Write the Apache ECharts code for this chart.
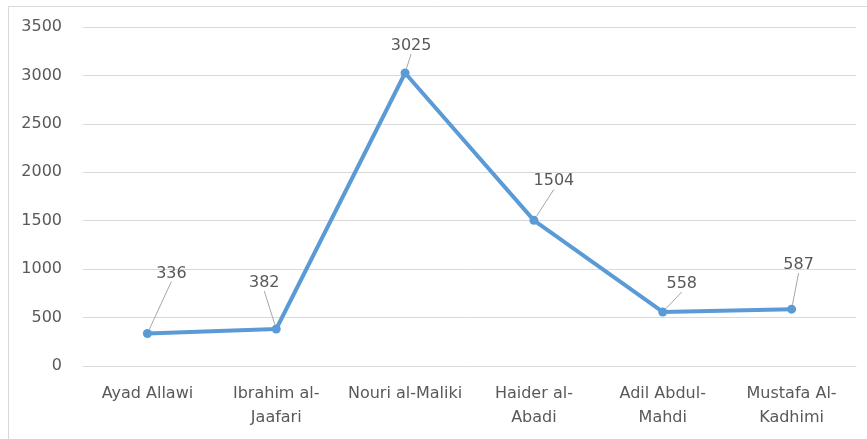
<!DOCTYPE html>
<html>
<head>
<meta charset="utf-8">
<script src="https://cdn.jsdelivr.net/npm/echarts@6/dist/echarts.min.js"></script>
<style>
  html, body { margin: 0; padding: 0; background: #fff; }
  #chart { width: 867px; height: 439px; }
</style>
</head>
<body>
<div id="chart"></div>
<script>
  // data
  const names = ['Ayad Allawi', 'Ibrahim al-\nJaafari', 'Nouri al-Maliki',
                 'Haider al-\nAbadi', 'Adil Abdul-\nMahdi', 'Mustafa Al-\nKadhimi'];
  const values = [336, 382, 3025, 1504, 558, 587];
  const yTicks = { min: 0, max: 3500, interval: 500 };

  // callout offsets (label centre relative to the point), px
  const calloutDx = [24, -12, 6, 20, 19, 7];
  const calloutDy = [-60, -46, -27, -39, -28, -44];

  const C = {
    line: '#5B9BD5', grid: '#D9D9D9', text: '#595959', leader: '#A6A6A6',
    font: "'DejaVu Sans', sans-serif"
  };

  const chart = echarts.init(document.getElementById('chart'));
  chart.setOption({
    animation: false,
    graphic: [{
      type: 'rect', silent: true,
      shape: { x: 8.5, y: 6.5, width: 900, height: 500 },
      style: { fill: 'none', stroke: C.grid, lineWidth: 1 }
    }],
    grid: { left: 83, right: 11, top: 27, bottom: 73 },
    xAxis: {
      type: 'category', data: names, boundaryGap: true,
      axisLine: { lineStyle: { color: C.grid } },
      axisTick: { show: false },
      axisLabel: {
        color: C.text, fontSize: 16, fontFamily: C.font,
        lineHeight: 24, margin: 16, interval: 0
      }
    },
    yAxis: {
      type: 'value', min: yTicks.min, max: yTicks.max, interval: yTicks.interval,
      axisLine: { show: false }, axisTick: { show: false },
      splitLine: { lineStyle: { color: C.grid } },
      axisLabel: {
        color: C.text, fontSize: 16, fontFamily: C.font, margin: 21,
        formatter: (v) => String(v)
      }
    },
    series: [{
      type: 'line', data: values,
      symbol: 'circle', symbolSize: 9,
      lineStyle: { color: C.line, width: 4 },
      itemStyle: { color: C.line },
      label: {
        show: true, position: 'inside',
        color: C.text, fontSize: 16, fontFamily: C.font
      },
      labelLine: { show: true, lineStyle: { color: C.leader, width: 1 } },
      labelLayout: (p) => ({ dx: calloutDx[p.dataIndex], dy: calloutDy[p.dataIndex] })
    }]
  });
</script>
</body>
</html>
